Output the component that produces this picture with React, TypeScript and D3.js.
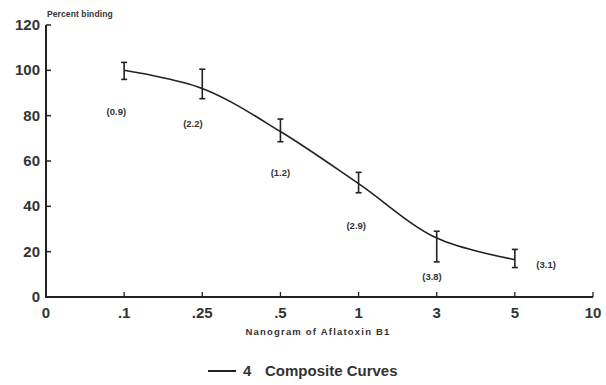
import React from "react";
import * as d3 from "d3";

const categories = ["0", ".1", ".25", ".5", "1", "3", "5", "10"];
const doses = [".1", ".25", ".5", "1", "3", "5"];
const fitValues = [100, 92, 73, 50, 26, 16.5];
const errHigh = [103.5, 100.5, 78.5, 55, 29, 21];
const errLow = [96, 87.5, 68.5, 46, 15.5, 13];
const sdLabels = ["(0.9)", "(2.2)", "(1.2)", "(2.9)", "(3.8)", "(3.1)"];
const sdLabelY = [81.5, 76.5, 54.5, 31.5, 9, 14];
const sdLabelDx = [-0.1, -0.12, 0, -0.03, -0.06, 0.4];
const yTicks = [0, 20, 40, 60, 80, 100, 120];

const W = 606;
const H = 385;

export default function App() {
  const x = d3.scalePoint<string>().domain(categories).range([46, 593]);
  const y = d3.scaleLinear().domain([0, 120]).range([297, 25]);
  const step = x.step();
  const line = d3
    .line<number>()
    .x((_, i) => x(doses[i]) as number)
    .y((d) => y(d))
    .curve(d3.curveCatmullRom.alpha(0.5));
  const ink = "#222";
  const font = "'Liberation Sans', Arial, sans-serif";
  return (
    <svg
      width={W}
      height={H}
      style={{ position: "absolute", left: 0, top: 0, background: "#fff" }}
      fontFamily={font}
    >
      <rect width={W} height={H} fill="#fff" />
      {/* y axis */}
      <line x1={x("0")} x2={x("0")} y1={y(120)} y2={y(0)} stroke={ink} strokeWidth={2} />
      {yTicks.map((t) => (
        <g key={t}>
          <line x1={x("0")!} x2={x("0")! + 5} y1={y(t)} y2={y(t)} stroke={ink} strokeWidth={1.5} />
          <text x={40} y={y(t) + 5} textAnchor="end" fontSize={15} fontWeight="bold" fill="#333">
            {t}
          </text>
        </g>
      ))}
      {/* x axis */}
      <line x1={x("0")! - 1} x2={x("10")} y1={y(0)} y2={y(0)} stroke={ink} strokeWidth={2} />
      {categories.map((c) => (
        <g key={c}>
          {c !== "0" && (
            <line x1={x(c)} x2={x(c)} y1={y(0)} y2={y(0) - 5} stroke={ink} strokeWidth={1.3} />
          )}
          <text x={x(c)} y={318} textAnchor="middle" fontSize={15} fontWeight="bold" fill="#333">
            {c}
          </text>
        </g>
      ))}
      {/* titles */}
      <text x={47} y={17} fontSize={8.5} fontWeight="bold" fill="#333" letterSpacing={0.1}>
        Percent binding
      </text>
      <text x={318} y={335} textAnchor="middle" fontSize={9.5} fontWeight="bold" fill="#333" letterSpacing={1.2}>
        Nanogram of Aflatoxin B1
      </text>
      {/* curve */}
      <path d={line(fitValues) || ""} fill="none" stroke={ink} strokeWidth={1.6} />
      {/* error bars */}
      {doses.map((d, i) => {
        const cx = x(d) as number;
        return (
          <g key={d} stroke={ink} strokeWidth={1.6}>
            <line x1={cx} x2={cx} y1={y(errHigh[i])} y2={y(errLow[i])} />
            <line x1={cx - 3} x2={cx + 3} y1={y(errHigh[i])} y2={y(errHigh[i])} />
            <line x1={cx - 3} x2={cx + 3} y1={y(errLow[i])} y2={y(errLow[i])} />
          </g>
        );
      })}
      {/* SD labels */}
      {doses.map((d, i) => (
        <text
          key={d}
          x={(x(d) as number) + sdLabelDx[i] * step}
          y={y(sdLabelY[i]) + 3}
          textAnchor="middle"
          fontSize={9.5}
          fontWeight="bold"
          fill="#333"
        >
          {sdLabels[i]}
        </text>
      ))}
      {/* legend */}
      <line x1={208} x2={236} y1={371} y2={371} stroke={ink} strokeWidth={2} />
      <text x={243} y={376} fontSize={15} fontWeight="bold" fill="#333">
        4
      </text>
      <text x={265} y={376} fontSize={15} fontWeight="bold" fill="#333">
        Composite Curves
      </text>
    </svg>
  );
}
